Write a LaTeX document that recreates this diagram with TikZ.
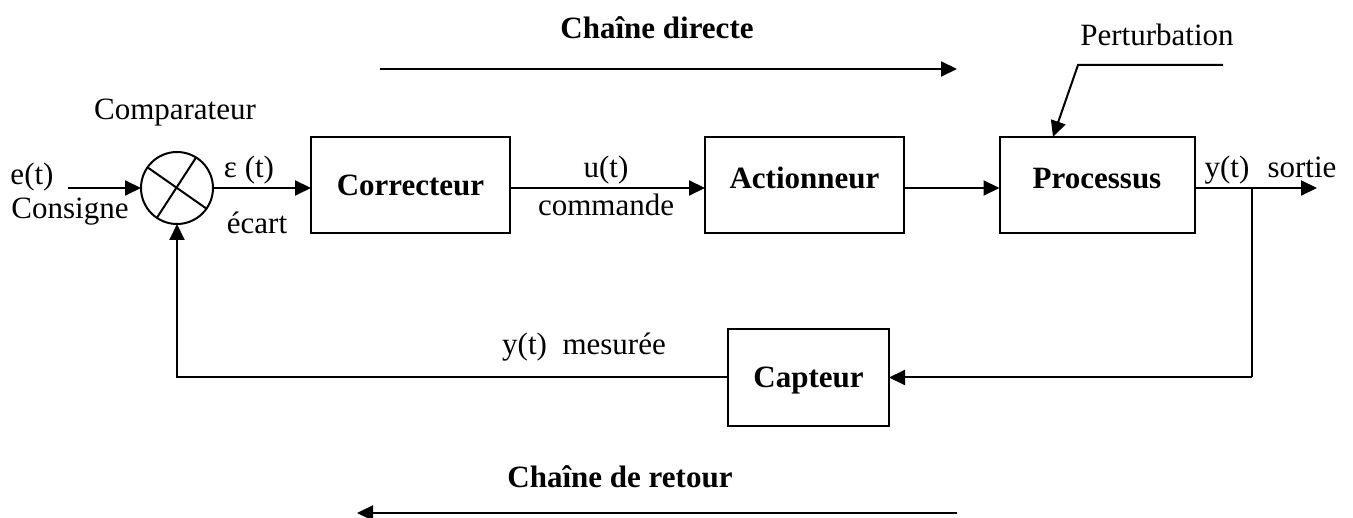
\documentclass[tikz,border=0pt]{standalone}
\usepackage{fontspec}
\setmainfont{Liberation Serif}
\usetikzlibrary{arrows.meta}
\tikzset{
  txt/.style={font=\fontsize{31}{36}\selectfont, inner sep=0pt, outer sep=0pt},
  btxt/.style={font=\fontsize{31}{36}\selectfont\bfseries, inner sep=0pt, outer sep=0pt},
  blk/.style={draw, line width=2pt, inner sep=0pt, outer sep=0pt, font=\fontsize{31}{36}\selectfont\bfseries},
  ln/.style={line width=2pt},
  arr/.style={line width=2pt, -{Triangle[length=16pt,width=15pt]}}
}
\begin{document}
\begin{tikzpicture}[x=1pt,y=-1pt]
\useasboundingbox (0,0) rectangle (1353,518);
% blocks
\node[draw, circle, line width=2pt, minimum size=72pt, inner sep=0pt, outer sep=0pt] (cmp) at (177,188) {};
\draw[ln] (cmp.145) -- (cmp.-35);
\draw[ln] (cmp.58) -- (cmp.236);
\node[blk, minimum width=199pt, minimum height=96pt] (corr) at (410.5,185) {Correcteur};
\node[blk, minimum width=199pt, minimum height=96pt, text depth=14pt] (act) at (804.5,185) {Actionneur};
\node[blk, minimum width=195pt, minimum height=96pt, text depth=14pt] (proc) at (1097,185) {Processus};
\node[blk, minimum width=161pt, minimum height=97pt, text depth=0pt] (capt) at (808.5,377.5) {Capteur};
% coordinates
\coordinate (ein) at (68,188);
\coordinate (out) at (1317,188);
\coordinate (br) at (1252,188);
\coordinate (p1) at (1223,65);
\coordinate (p2) at (1078,65);
\coordinate (p3) at (1053,137);
\coordinate (cd1) at (380,69);
\coordinate (cd2) at (957,69);
\coordinate (cr1) at (957,513);
\coordinate (cr2) at (357,513);
% connectors
\draw[arr] (ein) -- (cmp.west);
\draw[arr] (cmp.east) -- (corr.west |- cmp.east);
\draw[arr] (corr.east |- cmp.east) -- (act.west |- cmp.east);
\draw[arr] (act.east |- cmp.east) -- (proc.west |- cmp.east);
\draw[arr] (proc.east |- cmp.east) -- (out);
\draw[ln] (br) -- (br |- capt.east);
\draw[arr] (br |- capt.east) -- (capt.east);
\draw[arr] (capt.west) -- (cmp.south |- capt.west) -- (cmp.south);
\draw[arr] (p1) -- (p2) -- (p3);
\draw[arr] (cd1) -- (cd2);
\draw[arr] (cr1) -- (cr2);
% labels
\node[btxt] (tcd) at (657,28) {Chaîne directe};
\node[btxt] (tcr) at (620,477) {Chaîne de retour};
\node[txt] (tpert) at (1157,35) {Perturbation};
\node[txt] (tcomp) at (175,113) {Comparateur};
\node[txt] (te) at (32,177) {e(t)};
\node[txt] (tcons) at (70,212) {Consigne};
\node[txt] (teps) at (249,170) {ε (t)};
\node[txt] (tecart) at (257,223) {écart};
\node[txt] (tu) at (606,170) {u(t)};
\node[txt] (tcmd) at (606,205) {commande};
\node[txt, anchor=base] (ty) at (1227,178) {y(t)};
\node[txt, anchor=base] (tsort) at (1302,178) {sortie};
\node[txt] (tmes) at (584,347) {y(t)\ \ mesurée};
\end{tikzpicture}
\end{document}
